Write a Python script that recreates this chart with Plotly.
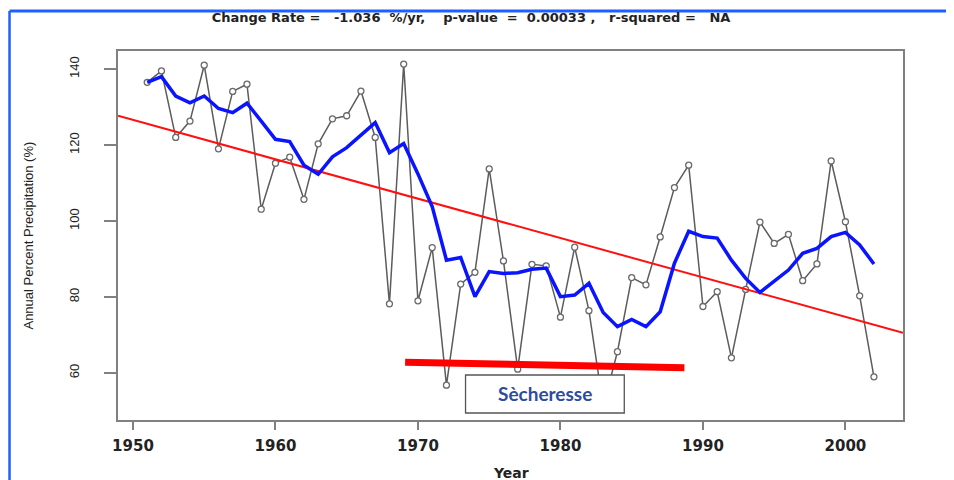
import plotly.graph_objects as go

years = list(range(1951, 2003))
precip = [136.5, 139.5, 122.0, 126.3, 141.0, 119.0, 134.1, 136.0, 103.1, 115.2,
          116.8, 105.7, 120.3, 126.9, 127.7, 134.2, 122.0, 78.2, 141.3, 79.0,
          93.0, 56.8, 83.4, 86.5, 113.7, 89.5, 61.0, 88.6, 88.2, 74.7,
          93.1, 76.4, 51.2, 65.6, 85.1, 83.2, 95.8, 108.8, 114.7, 77.5,
          81.4, 64.0, 82.0, 99.7, 94.1, 96.5, 84.3, 88.7, 115.8, 99.8,
          80.3, 59.0]
smooth = [136.5, 138.0, 132.9, 131.1, 132.9, 129.6, 128.5, 131.0, 126.3, 121.5,
          120.9, 114.7, 112.3, 116.9, 119.3, 122.6, 125.9, 118.0, 120.4, 112.4,
          103.8, 89.7, 90.4, 80.1, 86.7, 86.2, 86.4, 87.3, 87.6, 80.1,
          80.5, 83.6, 75.9, 72.2, 74.1, 72.2, 76.1, 88.9, 97.3, 95.9,
          95.5, 89.7, 84.9, 81.2, 84.3, 87.1, 91.5, 92.8, 95.9, 97.0,
          93.7, 88.7]
trend_x = [1948.95, 2004.04]
trend_y = [127.7, 70.6]
drought_x = [1969.1, 1988.7]
drought_y = [62.8, 61.4]
x_ticks = [1950, 1960, 1970, 1980, 1990, 2000]
y_ticks = [60, 80, 100, 120, 140]
title_text = ("Change Rate =   -1.036  %/yr,    p-value  =  0.00033 ,   "
              "r-squared =   NA")
label_text = "Sècheresse"

# the page body has an 8px margin; the figure is sized to fit the window
W, H = 946, 472
L, T = 110, 43
PW, PH = 785, 369

fig = go.Figure()
fig.add_trace(go.Scatter(
    x=years, y=precip, mode="lines+markers",
    line=dict(color="#5c5c5c", width=1.5),
    marker=dict(symbol="circle", size=6, color="white",
                line=dict(color="#6a6a6a", width=1.3)),
    showlegend=False))
fig.add_trace(go.Scatter(
    x=trend_x, y=trend_y, mode="lines",
    line=dict(color="#ff1010", width=2), showlegend=False))
fig.add_trace(go.Scatter(
    x=years, y=smooth, mode="lines",
    line=dict(color="#0a14ff", width=3.5), showlegend=False))
fig.add_trace(go.Scatter(
    x=drought_x, y=drought_y, mode="lines",
    line=dict(color="#ff0000", width=7), showlegend=False))

# label box
fig.add_shape(type="rect", xref="x", yref="y",
              x0=1973.34, x1=1984.48, y0=49.47, y1=59.47,
              fillcolor="white", line=dict(color="#555555", width=1.3),
              layer="above")
fig.add_annotation(x=1978.9, y=54.5, xref="x", yref="y", text="<b>" + label_text + "</b>",
                   showarrow=False,
                   font=dict(family="Lato, Open Sans, sans-serif", size=19, color="#2d4c9e"))

# blue frame
fig.add_shape(type="line", xref="paper", yref="paper",
              x0=-0.1382, x1=1.07, y0=1.1084, y1=1.1084,
              line=dict(color="#1f5fff", width=3))
fig.add_shape(type="line", xref="paper", yref="paper",
              x0=-0.1382, x1=-0.1382, y0=1.1084, y1=-0.17,
              line=dict(color="#1f5fff", width=2.5))

# axis titles
fig.add_annotation(x=-0.1146, y=0.5, xref="paper", yref="paper",
                   text="Annual Percent Precipitation (%)", textangle=-90,
                   showarrow=False, xanchor="center", yanchor="middle",
                   font=dict(family="Liberation Sans, Arial", size=13, color="#222222"))
fig.add_annotation(x=0.5, y=-0.1436, xref="paper", yref="paper",
                   text="<b>Year</b>", showarrow=False,
                   xanchor="center", yanchor="middle",
                   font=dict(family="DejaVu Sans", size=14, color="#222222"))

fig.update_layout(
    width=W, height=H,
    margin=dict(l=L, r=W - L - PW, t=T, b=H - T - PH, autoexpand=False),
    paper_bgcolor="white", plot_bgcolor="white",
    title=dict(text="<b>" + title_text + "</b>", x=(471 - 8) / W, xanchor="center",
               y=1 - 9 / H, yanchor="middle",
               font=dict(family="DejaVu Sans", size=13, color="#222222")),
    xaxis=dict(range=[1948.95, 2004.04], tickvals=x_ticks,
               ticktext=[str(v) for v in x_ticks],
               showgrid=False, zeroline=False,
               showline=True, mirror=True, linecolor="#808080", linewidth=2,
               ticks="outside", ticklen=8, tickcolor="#808080", tickwidth=1.5,
               tickfont=dict(family="DejaVu Sans", size=15, color="#222222", weight="bold"),
               ticklabelstandoff=3),
    yaxis=dict(range=[47.63, 144.74], tickvals=y_ticks,
               ticktext=[str(v) for v in y_ticks],
               showgrid=False, zeroline=False,
               showline=True, mirror=True, linecolor="#808080", linewidth=2,
               ticks="outside", ticklen=12, tickcolor="#808080", tickwidth=1.5,
               tickangle=-90,
               tickfont=dict(family="Liberation Sans, Arial", size=13, color="#222222"),
               ticklabelstandoff=20),
)

fig.write_html("out.html")
